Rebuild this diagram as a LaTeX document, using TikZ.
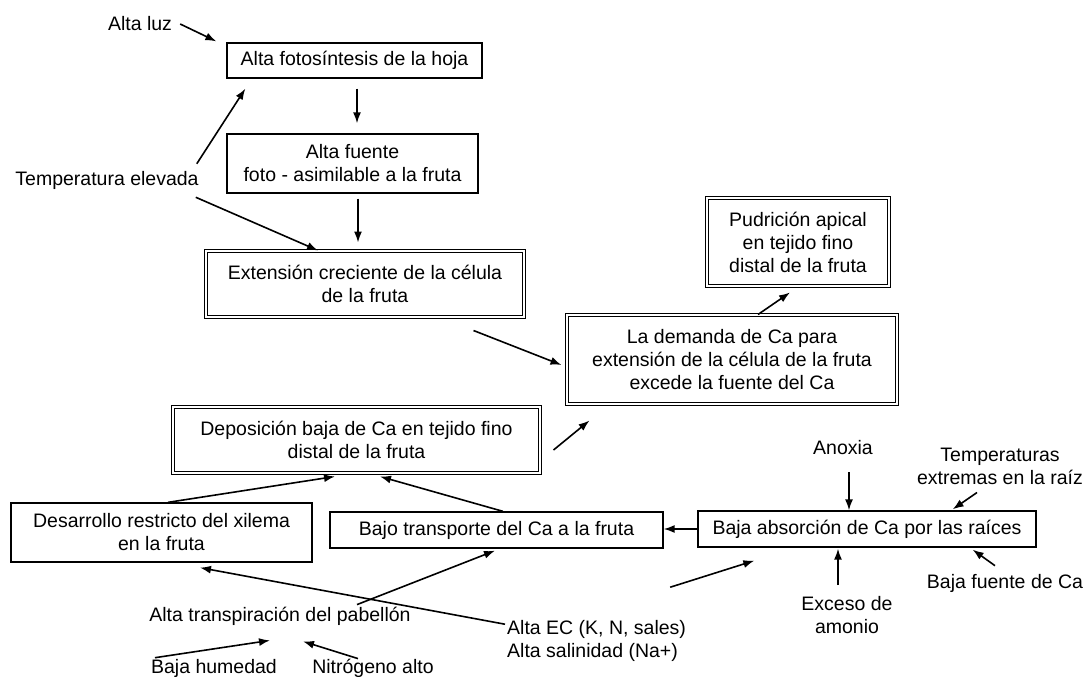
\documentclass[tikz,border=0pt]{standalone}
\usepackage{fontspec}
\setmainfont{Liberation Sans}
\usepackage{tikz}
\usetikzlibrary{arrows.meta}

\begin{document}
\begin{tikzpicture}[
    x=1pt, y=-1pt,
    font=\fontsize{19.5}{23}\selectfont,
    box/.style={rectangle, draw, line width=1.3pt, align=center, inner sep=0pt},
    dbox/.style={box, double, double distance=2.4pt, line width=1pt},
    lbl/.style={align=center, inner sep=1pt},
    arr/.style={-{Latex[length=11pt, width=8pt]}, line width=1.6pt}
]
    \useasboundingbox (0,0) rectangle (1090,677);

    % Boxes
    \node[box, minimum width=255, minimum height=35] (foto) at (354.5,60.5) {Alta fotosíntesis de la hoja};
    \node[box, minimum width=251, minimum height=59] (fuente) at (352.5,163.5) {Alta fuente\\foto - asimilable a la fruta};
    \node[dbox, minimum width=318, minimum height=66] (ext) at (365,284) {Extensión creciente de la célula\\de la fruta};
    \node[dbox, minimum width=182, minimum height=88] (pud) at (798,242) {Pudrición apical\\en tejido fino\\distal de la fruta};
    \node[dbox, minimum width=330, minimum height=89] (dem) at (732,359.5) {La demanda de Ca para\\extensión de la célula de la fruta\\excede la fuente del Ca};
    \node[dbox, minimum width=367, minimum height=66] (depo) at (356.5,440) {Deposición baja de Ca en tejido fino\\distal de la fruta};
    \node[box, minimum width=301, minimum height=59] (xil) at (161.5,532.5) {Desarrollo restricto del xilema\\en la fruta};
    \node[box, minimum width=333, minimum height=36] (trans) at (496.5,530) {Bajo transporte del Ca a la fruta};
    \node[box, minimum width=338, minimum height=36] (absor) at (867,529) {Baja absorción de Ca por las raíces};

    % Free labels
    \node[lbl] (luz) at (140,24) {Alta luz};
    \node[lbl] (tempe) at (107,180) {Temperatura elevada};
    \node[lbl] (anox) at (843,448) {Anoxia};
    \node[lbl] (traiz) at (1000,466) {Temperaturas\\extremas en la raíz};
    \node[lbl] (bfuente) at (1005,583) {Baja fuente de Ca};
    \node[lbl] (amon) at (847,615) {Exceso de\\amonio};
    \node[lbl] (transp) at (280,616) {Alta transpiración del pabellón};
    \node[lbl, align=left, anchor=west] (ec) at (506,641) {Alta EC (K, N, sales)\\Alta salinidad (Na+)};
    \node[lbl] (hum) at (214,668) {Baja humedad};
    \node[lbl] (nitro) at (373,668) {Nitrógeno alto};

    % Upper chain
    \draw[arr] ([shift={(7,0)}]luz.east) -- ([shift={(-10,-1)}]foto.north west);
    \draw[arr] ([shift={(-3,-6)}]tempe.north east) -- ([shift={(19,10)}]foto.south west);
    \draw[arr] ([shift={(-4,7)}]tempe.south east) -- ([shift={(-47,0)}]ext.north);
    \draw[arr] ([shift={(2.5,10)}]foto.south) -- ([shift={(4.5,-10)}]fuente.north);
    \draw[arr] ([shift={(5.5,5)}]fuente.south) -- ([shift={(-7,-8)}]ext.north);
    \draw[arr] ([shift={(-51,13)}]ext.south east) -- ([shift={(-5,5.5)}]dem.west);
    \draw[arr] ([shift={(26,0)}]dem.north) -- ([shift={(-8,6)}]pud.south);
    \draw[arr] ([shift={(13,10)}]depo.east) -- ([shift={(23,16)}]dem.south west);

    % Lower chain
    \draw[arr] ([shift={(6.5,0)}]xil.north) -- ([shift={(-21.5,3)}]depo.south);
    \draw[arr] ([shift={(6.5,0)}]trans.north) -- ([shift={(23.5,3)}]depo.south);
    \draw[arr] (absor.west) -- (absor.west -| trans.east);
    \draw[arr] ([shift={(6,16)}]anox.south) -- ([shift={(-18,0)}]absor.north);
    \draw[arr] ([shift={(-23,7)}]traiz.south) -- ([shift={(-84,-1)}]absor.north east);
    \draw[arr] ([shift={(-10,-7)}]bfuente.north) -- ([shift={(-64,2)}]absor.south east);
    \draw[arr] ([shift={(-9,-10)}]amon.north) -- ([shift={(-29,1)}]absor.south);
    \draw[arr] ([shift={(-17,-32)}]ec.north east) -- ([shift={(57,13)}]absor.south west);
    \draw[arr] ([shift={(77,-1)}]transp.north) -- ([shift={(-1.5,2)}]trans.south);
    \draw[arr] ([shift={(-1,5)}]ec.north west) -- ([shift={(38.5,5)}]xil.south);
    \draw[arr] ([shift={(5,0)}]hum.north west) -- ([shift={(-10,14)}]transp.south);
    \draw[arr] ([shift={(-15,1)}]nitro.north) -- ([shift={(23,15)}]transp.south);

\end{tikzpicture}
\end{document}
